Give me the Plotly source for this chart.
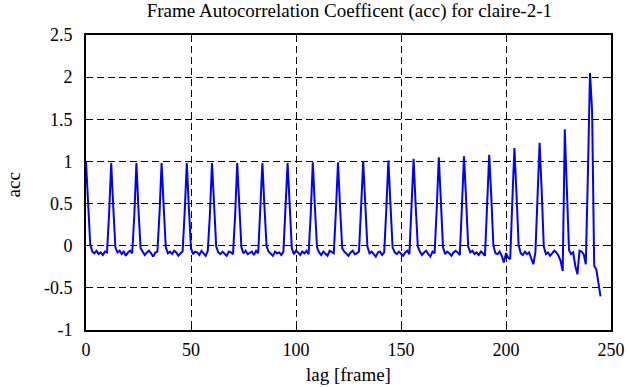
import plotly.graph_objects as go

lags = list(range(0, 246))
acc = [
    # 0-11
    1.00, 0.55, 0.02, -0.07, -0.09, -0.06, -0.10, -0.08, -0.11, -0.07, -0.08, 0.38,
    # 12-23
    0.98, 0.45, -0.02, -0.08, -0.06, -0.10, -0.07, -0.12, -0.08, -0.06, -0.09, 0.36,
    # 24-35
    0.98, 0.42, -0.03, -0.07, -0.11, -0.08, -0.06, -0.09, -0.13, -0.08, -0.07, 0.38,
    # 36-47
    0.98, 0.46, -0.02, -0.09, -0.07, -0.10, -0.06, -0.08, -0.12, -0.09, -0.07, 0.40,
    # 48-59
    0.98, 0.44, -0.03, -0.10, -0.07, -0.08, -0.11, -0.06, -0.09, -0.12, -0.06, 0.37,
    # 60-71
    0.98, 0.43, -0.01, -0.08, -0.10, -0.07, -0.09, -0.12, -0.07, -0.08, -0.10, 0.35,
    # 72-83
    0.98, 0.47, -0.02, -0.09, -0.06, -0.10, -0.08, -0.07, -0.11, -0.06, -0.09, 0.38,
    # 84-95
    0.98, 0.45, -0.01, -0.07, -0.09, -0.12, -0.07, -0.09, -0.08, -0.11, -0.07, 0.40,
    # 96-107
    0.98, 0.48, -0.03, -0.10, -0.06, -0.08, -0.11, -0.07, -0.09, -0.06, -0.10, 0.37,
    # 108-119
    0.99, 0.46, -0.02, -0.08, -0.11, -0.07, -0.09, -0.12, -0.06, -0.08, -0.09, 0.41,
    # 120-131
    0.99, 0.45, -0.03, -0.07, -0.09, -0.12, -0.08, -0.06, -0.10, -0.09, -0.07, 0.39,
    # 132-143
    1.00, 0.49, -0.01, -0.09, -0.07, -0.10, -0.13, -0.08, -0.07, -0.11, -0.08, 0.43,
    # 144-155
    1.01, 0.48, -0.02, -0.08, -0.10, -0.07, -0.09, -0.12, -0.08, -0.06, -0.10, 0.40,
    # 156-167
    1.03, 0.47, -0.01, -0.07, -0.11, -0.08, -0.06, -0.10, -0.13, -0.07, -0.09, 0.43,
    # 168-179
    1.05, 0.52, -0.02, -0.10, -0.07, -0.09, -0.12, -0.08, -0.06, -0.08, -0.11, 0.46,
    # 180-191
    1.06, 0.55, -0.01, -0.08, -0.06, -0.10, -0.08, -0.11, -0.07, -0.09, -0.12, 0.48,
    # 192-203
    1.08, 0.58, 0.00, -0.09, -0.10, -0.07, -0.12, -0.20, -0.09, -0.14, -0.16, 0.52,
    # 204-215
    1.16, 0.62, 0.01, -0.09, -0.11, -0.07, -0.10, -0.08, -0.14, -0.22, -0.08, 0.56,
    # 216-227
    1.22, 0.65, -0.01, -0.10, -0.08, -0.12, -0.09, -0.06, -0.08, -0.12, -0.18, -0.30,
    # 228-239
    1.38, 0.70, -0.05, -0.10, -0.08, -0.24, -0.34, -0.06, -0.07, -0.10, -0.22, 0.85,
    # 240-245
    2.05, 1.60, -0.24, -0.28, -0.45, -0.60,
]

x_ticks = [0, 50, 100, 150, 200, 250]
x_labels = ["0", "50", "100", "150", "200", "250"]
y_ticks = [-1, -0.5, 0, 0.5, 1, 1.5, 2, 2.5]
y_labels = ["-1", "-0.5", "0", "0.5", "1", "1.5", "2", "2.5"]

FONT = "Liberation Serif, Times New Roman, serif"
TICK_SIZE = 18
LABEL_SIZE = 19
TITLE_SIZE = 19

fig = go.Figure()
fig.add_trace(go.Scatter(
    x=lags, y=acc, mode="lines",
    line=dict(color="#0000ff", width=2),
    showlegend=False, hoverinfo="skip",
))

axis_common = dict(
    showline=True, linecolor="black", linewidth=2, mirror="ticks",
    ticks="inside", ticklen=6, tickwidth=1, tickcolor="black",
    showgrid=True, gridcolor="black", gridwidth=1, griddash="7px,4px",
    zeroline=False, automargin=False,
    tickfont=dict(family=FONT, size=TICK_SIZE, color="black"),
)

fig.update_layout(
    width=629, height=387,
    margin=dict(l=86, r=18, t=35, b=57),
    paper_bgcolor="white", plot_bgcolor="white",
    font=dict(family=FONT, size=TICK_SIZE, color="black"),
    title=dict(
        text="Frame Autocorrelation Coefficent (acc) for claire-2-1",
        font=dict(family=FONT, size=TITLE_SIZE, color="black"),
        x=0.5554, xanchor="center", xref="container",
        y=0.974, yanchor="middle", yref="container",
    ),
    xaxis=dict(
        range=[0, 250], tickvals=x_ticks, ticktext=x_labels,
        ticklabelstandoff=2,
        **axis_common,
    ),
    yaxis=dict(
        range=[-1, 2.5], tickvals=y_ticks, ticktext=y_labels,
        ticklabelstandoff=8,
        **axis_common,
    ),
    annotations=[
        dict(text="lag [frame]", xref="paper", yref="paper",
             x=0.5, y=-0.150, xanchor="center", yanchor="middle",
             showarrow=False, font=dict(family=FONT, size=LABEL_SIZE, color="black")),
        dict(text="acc", xref="paper", yref="paper",
             x=-0.139, y=0.49, xanchor="center", yanchor="middle", textangle=-90,
             showarrow=False, font=dict(family=FONT, size=LABEL_SIZE, color="black")),
    ],
)

fig.write_html(
    "out.html",
    config={"displayModeBar": False},
    post_script="document.body.style.margin='0px';document.body.style.overflow='hidden';",
)
